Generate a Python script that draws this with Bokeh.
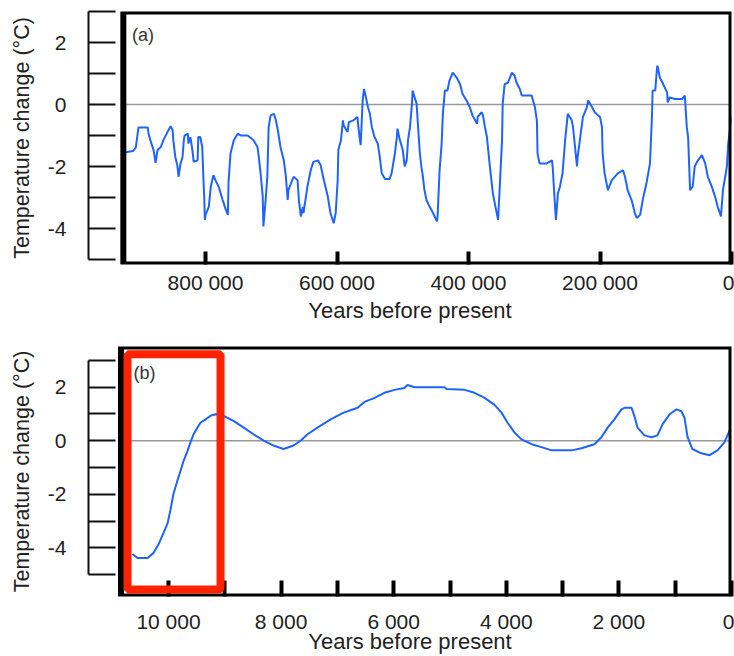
from bokeh.plotting import figure
from bokeh.layouts import column
from bokeh.models import Range1d, FixedTicker, BoxAnnotation, Label
from bokeh.embed import file_html
from bokeh.resources import INLINE

# ---------------- data: panel (a), last ~900 000 years ----------------
years_a = [922000, 910000, 906000, 903000, 902000, 888000, 887000, 884000, 879000, 876000,
           873000, 868000, 864000, 858000, 853000, 850000, 849000, 846000, 843000, 841000,
           838000, 835000, 833000, 832000, 827000, 826000, 823000, 820000, 818000, 812000,
           811000, 808000, 805000, 803000, 802000, 801000, 800000, 795000, 792000, 788000,
           785000, 780000, 774000, 769000, 766000, 765000, 762000, 757000, 751000, 746000,
           736000, 727000, 721000, 719000, 716000, 713000, 712000, 709000, 706000, 704000,
           701000, 696000, 693000, 690000, 686000, 681000, 678000, 675000, 674000, 671000,
           666000, 660000, 658000, 655000, 652000, 651000, 645000, 640000, 636000, 629000,
           625000, 620000, 614000, 610000, 605000, 602000, 599000, 598000, 594000, 591000,
           590000, 584000, 582000, 575000, 569000, 567000, 564000, 561000, 559000, 556000,
           553000, 550000, 547000, 543000, 538000, 535000, 532000, 527000, 520000, 517000,
           512000, 509000, 508000, 505000, 500000, 497000, 494000, 492000, 489000, 486000,
           485000, 482000, 479000, 477000, 474000, 471000, 470000, 467000, 464000, 459000,
           454000, 448000, 447000, 444000, 441000, 439000, 436000, 432000, 429000, 424000,
           418000, 413000, 409000, 403000, 398000, 394000, 387000, 386000, 380000, 378000,
           375000, 372000, 368000, 363000, 359000, 355000, 352000, 349000, 348000, 345000,
           340000, 334000, 330000, 327000, 322000, 319000, 304000, 299000, 296000, 295000,
           292000, 281000, 273000, 272000, 269000, 267000, 264000, 261000, 257000, 253000,
           249000, 243000, 241000, 238000, 235000, 234000, 228000, 226000, 220000, 218000,
           212000, 208000, 203000, 200000, 197000, 196000, 193000, 188000, 182000, 173000,
           165000, 162000, 158000, 152000, 147000, 144000, 139000, 135000, 129000, 124000,
           121000, 120000, 116000, 113000, 112000, 109000, 104000, 98000, 97000, 94000,
           86000, 75000, 71000, 68000, 66000, 63000, 59000, 56000, 51000, 45000,
           40000, 36000, 30000, 25000, 21000, 16000, 13000, 7000, 5000, 0]
temp_a = [-1.54, -1.50, -1.38, -0.90, -0.74, -0.74, -0.90, -1.15, -1.47, -1.88,
          -1.47, -1.37, -1.15, -0.89, -0.70, -0.83, -1.15, -1.69, -1.95, -2.33,
          -1.90, -1.70, -1.15, -1.00, -0.94, -1.26, -1.05, -1.47, -1.85, -1.80,
          -1.05, -1.05, -1.37, -2.50, -2.97, -3.72, -3.56, -3.30, -2.65, -2.28,
          -2.44, -2.65, -3.08, -3.40, -3.56, -2.50, -1.58, -1.15, -0.94, -1.00,
          -1.00, -1.15, -1.37, -1.69, -2.28, -2.97, -3.93, -3.20, -2.33, -0.73,
          -0.35, -0.30, -0.51, -0.83, -1.37, -1.80, -2.28, -3.08, -2.76, -2.60,
          -2.33, -2.44, -3.08, -3.61, -3.30, -3.50, -2.65, -2.12, -1.85, -1.80,
          -1.95, -2.44, -2.97, -3.50, -3.83, -3.50, -2.44, -1.47, -1.15, -0.51,
          -0.67, -0.89, -0.57, -0.51, -0.40, -0.83, -1.31, 0.13, 0.50, 0.23,
          -0.09, -0.30, -0.73, -1.05, -1.26, -1.69, -2.22, -2.40, -2.40, -2.22,
          -1.58, -1.05, -0.78, -1.10, -1.47, -2.00, -1.80, -1.15, -0.73, 0.03,
          0.45, 0.23, 0.03, -0.62, -1.58, -2.12, -2.22, -2.76, -3.08, -3.30,
          -3.50, -3.77, -3.60, -2.12, -1.31, -0.30, 0.45, 0.45, 0.77, 1.03,
          0.87, 0.66, 0.34, 0.13, -0.09, -0.35, -0.62, -0.40, -0.25, -0.35,
          -0.73, -1.05, -1.90, -2.86, -3.30, -3.72, -2.44, -1.15, 0.03, 0.66,
          0.71, 1.03, 0.93, 0.71, 0.50, 0.29, 0.29, -0.09, -0.51, -1.58,
          -1.90, -1.90, -1.80, -2.00, -3.08, -3.72, -2.86, -2.65, -2.22, -1.15,
          -0.30, -0.51, -0.73, -1.37, -2.00, -1.69, -0.73, -0.40, -0.09, 0.13,
          -0.09, -0.25, -0.35, -0.40, -0.73, -1.58, -2.22, -2.76, -2.44, -2.22,
          -2.12, -2.33, -2.76, -3.08, -3.50, -3.66, -3.56, -3.08, -2.50, -1.90,
          -0.40, 0.45, 0.45, 1.25, 1.20, 0.87, 0.66, 0.39, 0.07, 0.23,
          0.18, 0.18, 0.29, -0.73, -1.05, -2.76, -2.65, -2.00, -1.80, -1.63,
          -1.90, -2.33, -2.65, -2.97, -3.30, -3.61, -2.76, -2.00, -1.26, -0.40]

# ---------------- data: panel (b), last ~10 600 years ----------------
years_b = [10640, 10550, 10370, 10265, 10175, 10090, 10015, 9965, 9910, 9840,
           9785, 9730, 9660, 9610, 9555, 9485, 9430, 9340, 9255, 9165,
           9020, 8845, 8665, 8490, 8310, 8135, 7955, 7780, 7655, 7530,
           7355, 7120, 6890, 6640, 6520, 6340, 6165, 5985, 5810, 5755,
           5630, 5100, 5060, 4740, 4565, 4385, 4210, 4085, 3980, 3855,
           3730, 3550, 3375, 3195, 2840, 2665, 2435, 2310, 2200, 2080,
           1955, 1900, 1775, 1725, 1670, 1545, 1420, 1315, 1225, 1100,
           975, 890, 835, 780, 695, 535, 390, 250, 125, 35]
temp_b = [-4.23, -4.38, -4.38, -4.19, -3.86, -3.45, -3.08, -2.58, -1.97, -1.48,
          -1.11, -0.74, -0.37, -0.06, 0.24, 0.49, 0.68, 0.80, 0.93, 0.99,
          0.93, 0.74, 0.49, 0.24, 0.00, -0.18, -0.31, -0.18, 0.00, 0.24,
          0.49, 0.80, 1.05, 1.23, 1.45, 1.60, 1.79, 1.90, 1.97, 2.08,
          2.00, 2.00, 1.93, 1.90, 1.79, 1.60, 1.34, 1.05, 0.68, 0.31,
          0.05, -0.13, -0.24, -0.36, -0.36, -0.28, -0.13, 0.13, 0.49, 0.80,
          1.17, 1.23, 1.23, 0.93, 0.49, 0.20, 0.13, 0.20, 0.61, 0.99,
          1.17, 1.10, 0.86, 0.13, -0.31, -0.47, -0.54, -0.36, -0.06, 0.38]

# ---------------- ticks / labels ----------------
y_ticks = [-5, -4, -3, -2, -1, 0, 1, 2, 3]
y_tick_labels = ["", "-4", "", "-2", "", "0", "", "2", ""]
x_ticks_a = [800000, 600000, 400000, 200000, 0]
x_tick_labels_a = ["800 000", "600 000", "400 000", "200 000", "0"]
x_ticks_b = [10000, 9000, 8000, 7000, 6000, 5000, 4000, 3000, 2000, 1000, 0]
x_tick_labels_b = ["10 000", "", "8 000", "", "6 000", "", "4 000", "", "2 000", "", "0"]
y_title = "Temperature change (°C)"
x_title = "Years before present"

# highlighted interval in panel (b)
highlight_b = (10728, 9076, -5.56, 3.23)

BLUE = "#1F63FF"
FONT = "Liberation Sans"


def make_panel(years, temps, frame_left, box_left, y_range, box_y, x_ticks, x_labels,
               tag, tag_xy, height, border_top, border_bottom, tick_in,
               x_label_standoff, x_title_standoff, x_bounds):
    p = figure(width=734, height=height,
               x_range=Range1d(frame_left, 0), y_range=Range1d(*y_range),
               output_backend="svg", toolbar_location=None,
               min_border_left=88, min_border_right=3,
               min_border_top=border_top, min_border_bottom=border_bottom)
    p.outline_line_color = None
    p.grid.visible = False
    p.background_fill_color = "white"
    p.border_fill_color = "white"

    yax = p.yaxis[0]
    yax.bounds = (-5, 3)
    yax.ticker = FixedTicker(ticks=y_ticks)
    yax.major_label_overrides = {t: l for t, l in zip(y_ticks, y_tick_labels)}
    yax.major_tick_in = 27
    yax.major_tick_out = 0
    yax.major_tick_line_width = 2
    yax.major_tick_line_color = "#111111"
    yax.axis_line_width = 2
    yax.axis_line_color = "#111111"
    yax.minor_tick_line_color = None
    yax.major_label_standoff = 22
    yax.major_label_text_font = FONT
    yax.major_label_text_font_size = "21px"
    yax.major_label_text_color = "#222222"
    yax.axis_label = y_title
    yax.axis_label_text_font = FONT
    yax.axis_label_text_font_size = "21.5px"
    yax.axis_label_text_font_style = "normal"
    yax.axis_label_text_color = "#222222"
    yax.axis_label_standoff = 11

    xax = p.xaxis[0]
    xax.bounds = x_bounds
    xax.ticker = FixedTicker(ticks=x_ticks)
    xax.major_label_overrides = {t: l for t, l in zip(x_ticks, x_labels)}
    xax.axis_line_color = None
    xax.major_tick_in = tick_in
    xax.major_tick_out = 0
    xax.major_tick_line_width = 4
    xax.major_tick_line_color = "black"
    xax.minor_tick_line_color = None
    xax.major_label_standoff = x_label_standoff
    xax.major_label_text_font = FONT
    xax.major_label_text_font_size = "21px"
    xax.major_label_text_color = "#222222"
    xax.axis_label = x_title
    xax.axis_label_text_font = FONT
    xax.axis_label_text_font_size = "22px"
    xax.axis_label_text_font_style = "normal"
    xax.axis_label_text_color = "#222222"
    xax.axis_label_standoff = x_title_standoff

    # zero reference line across the data domain
    p.segment(x0=[box_left], y0=[0], x1=[0], y1=[0], line_color="#9a9a9a", line_width=1.5)
    p.line(years, temps, line_color=BLUE, line_width=2)

    p.add_layout(BoxAnnotation(left=box_left, right=0, bottom=box_y[0], top=box_y[1],
                               fill_color=None, fill_alpha=0,
                               line_color="black", line_width=6, line_alpha=1))
    p.add_layout(Label(x=tag_xy[0], y=tag_xy[1], text=tag, text_font=FONT,
                       text_font_size="18px", text_color="#333333",
                       text_align="left", text_baseline="top"))
    return p


pa = make_panel(years_a, temp_a, frame_left=978000, box_left=925000,
                y_range=(-5.16, 3.0), box_y=(-5.16, 3.0),
                x_ticks=x_ticks_a, x_labels=x_tick_labels_a,
                tag="(a)", tag_xy=(911700, 2.55),
                height=328, border_top=11, border_bottom=64, tick_in=13,
                x_label_standoff=6, x_title_standoff=1, x_bounds=(0, 860000))

pb = make_panel(years_b, temp_b, frame_left=11421, box_left=10844,
                y_range=(-5.82, 3.52), box_y=(-5.82, 3.52),
                x_ticks=x_ticks_b, x_labels=x_tick_labels_b,
                tag="(b)", tag_xy=(10622, 2.89),
                height=328, border_top=18, border_bottom=57, tick_in=16,
                x_label_standoff=13, x_title_standoff=-7, x_bounds=(0, 10105))

pb.add_layout(BoxAnnotation(left=highlight_b[0], right=highlight_b[1],
                            bottom=highlight_b[2], top=highlight_b[3],
                            fill_color=None, fill_alpha=0,
                            line_color="#FF2200", line_width=8, line_alpha=1))

layout = column(pa, pb)
open("out.html", "w").write(file_html(layout, INLINE))
